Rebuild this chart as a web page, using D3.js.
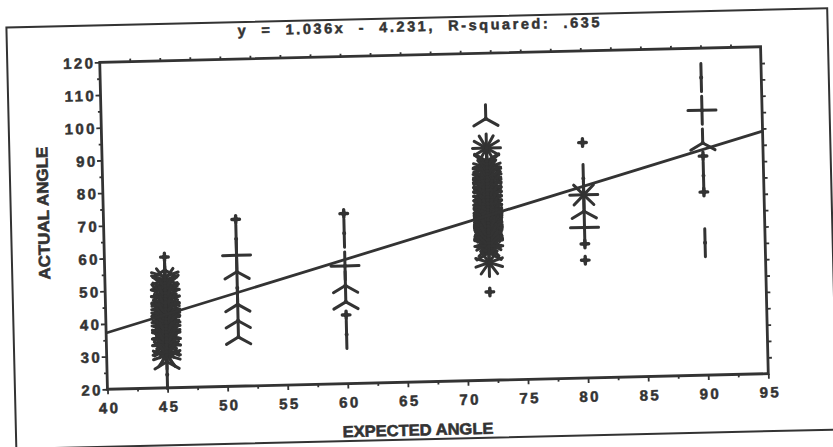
<!DOCTYPE html>
<html lang="en">
<head>
<meta charset="UTF-8">
<title>Expected vs actual angle</title>
<style>
  body, html { margin: 0; padding: 0; background: #fff; overflow: hidden; }
  svg { display: block; }
  text { font-family: "Liberation Sans", Arial, sans-serif; }
</style>
</head>
<body>
<script src="https://d3js.org/d3.v7.min.js"></script>
<script>
// sunflower plot: each entry is [actual angle, number of observations]
var at45 = [[60,1],[56,3],[54,5],[53,10],[52,6],[51,7],[50,12],[49,6],[48,8],[47,14],[46,7],[45,9],
            [44,16],[43,8],[42,12],[41,9],[40,8],[39,16],[38,7],[37,9],[36,14],[35,8],[34,7],
            [33,12],[32,6],[31,7],[30,10],[28,3],[24,2]];
var at51 = [[71,1],[65,2],[60,4],[55,3],[50,2],[45,3],[40,3],[35,3]];
var at60 = [[72,1],[66,2],[56,4],[50,3],[45,3],[41,1],[35,2]];
var at72 = [[100,3],[91,12],[87,6],[86,7],[85,10],[84,9],[83,12],[82,11],[81,14],[80,13],[79,16],
            [78,15],[77,18],[76,17],[75,20],[74,19],[73,22],[72,18],[71,20],[70,17],[69,18],
            [68,15],[67,16],[66,13],[65,14],[64,11],[63,12],[62,9],[61,8],[59,6],[56,10],[47,1]];
var at80 = [[92,1],[81,2],[76,8],[71,3],[66,4],[61,1],[56,1]];
var at90 = [[111,2],[101,4],[91,3],[87,1],[81,2],[76,1],[60.5,2]];
var expected = [45, 51, 60, 72, 80, 90];

var xTicks = [40, 45, 50, 55, 60, 65, 70, 75, 80, 85, 90, 95];
var yTicks = [20, 30, 40, 50, 60, 70, 80, 90, 100, 110, 120];
var slope = 1.036, intercept = -4.231;
var title = "y  =  1.036x  -  4.231,  R-squared:  .635";
var xLabel = "EXPECTED ANGLE", yLabel = "ACTUAL ANGLE";

var width = 833, height = 447;
var ink = "#333";

var svg = d3.select("body").append("svg")
    .attr("width", width)
    .attr("height", height);

// the scanned page sits slightly tilted
var page = svg.append("g").attr("transform", "rotate(-1.35,434,217.5)");

page.append("rect")
    .attr("x", 11).attr("y", 17.5)
    .attr("width", 821).attr("height", 421.5)
    .attr("fill", "none").attr("stroke", ink).attr("stroke-width", 2);

var x = d3.scaleLinear().domain([40, 95]).range([103.5, 764.5]);
var y = d3.scaleLinear().domain([20, 120]).range([381.5, 54.5]);

function style(g) {
    g.select(".domain").remove();
    g.selectAll("line").attr("stroke", ink).attr("stroke-width", 1.8);
}

// scanned print: text a little heavier than plain bold
function heavy(t, w) {
    t.attr("fill", ink).attr("stroke", ink).attr("stroke-width", w)
        .style("font-weight", "bold");
}

// minor ticks
page.append("g").attr("transform", "translate(0," + y(20) + ")")
    .call(d3.axisBottom(x).tickValues(d3.range(42.5, 95, 5)).tickSize(3).tickFormat(""))
    .call(style);
page.append("g").attr("transform", "translate(0," + y(120) + ")")
    .call(d3.axisTop(x).tickValues(d3.range(42.5, 95, 2.5)).tickSize(3).tickFormat(""))
    .call(style);
page.append("g").attr("transform", "translate(" + x(40) + ",0)")
    .call(d3.axisLeft(y).tickValues(d3.range(25, 120, 10)).tickSize(3).tickFormat(""))
    .call(style);
page.append("g").attr("transform", "translate(" + x(95) + ",0)")
    .call(d3.axisRight(y).tickValues(d3.range(25, 120, 5)).tickSize(4).tickFormat(""))
    .call(style);

// labelled axes
var xAxis = page.append("g").attr("transform", "translate(0," + y(20) + ")")
    .call(d3.axisBottom(x).tickValues(xTicks).tickSize(5))
    .call(style);
xAxis.selectAll("text")
    .attr("y", 24).attr("dy", 0).attr("dx", 1.2)
    .style("font-size", "15px").style("letter-spacing", "2.4px")
    .call(heavy, 0.5);

var yAxis = page.append("g").attr("transform", "translate(" + x(40) + ",0)")
    .call(d3.axisLeft(y).tickValues(yTicks).tickSize(5))
    .call(style);
yAxis.selectAll("text")
    .attr("x", -4.5).attr("dy", "0.36em")
    .style("font-size", "15px").style("letter-spacing", "2.4px")
    .call(heavy, 0.5);

page.append("rect")
    .attr("x", x(40)).attr("y", y(120))
    .attr("width", x(95) - x(40)).attr("height", y(20) - y(120))
    .attr("fill", "none").attr("stroke", ink).attr("stroke-width", 2.8);

// titles
page.append("text")
    .attr("x", 242).attr("y", 31)
    .attr("textLength", 362).attr("lengthAdjust", "spacing")
    .style("white-space", "pre")
    .style("font-size", "14.5px")
    .call(heavy, 0.5)
    .text(title);

page.append("text")
    .attr("x", 413).attr("y", 435)
    .attr("text-anchor", "middle")
    .attr("textLength", 151).attr("lengthAdjust", "spacingAndGlyphs")
    .style("font-size", "16px")
    .call(heavy, 0.6)
    .text(xLabel);

page.append("text")
    .attr("transform", "translate(49,204) rotate(-90)")
    .attr("text-anchor", "middle")
    .attr("textLength", 133).attr("lengthAdjust", "spacingAndGlyphs")
    .style("font-size", "16px")
    .call(heavy, 0.6)
    .text(yLabel);

// sunflowers
var columns = [at45, at51, at60, at72, at80, at90];
var glyphs = [];
columns.forEach(function(col, i) {
    col.forEach(function(p) {
        glyphs.push({ x: expected[i], y: p[0], n: p[1] });
    });
});

var petal = 14;
var petals = [];
glyphs.filter(function(d) { return d.n > 1; }).forEach(function(d) {
    for (var k = 0; k < d.n; k++) {
        petals.push({ d: d, a: Math.PI / 2 + 2 * Math.PI * k / d.n });
    }
});

var marks = page.append("g");

marks.selectAll("line.petal")
    .data(petals)
    .enter().append("line")
    .attr("class", "petal")
    .attr("x1", function(p) { return x(p.d.x); })
    .attr("y1", function(p) { return y(p.d.y); })
    .attr("x2", function(p) { return x(p.d.x) + petal * Math.cos(p.a); })
    .attr("y2", function(p) { return y(p.d.y) - petal * Math.sin(p.a); })
    .attr("stroke", ink).attr("stroke-width", 3).attr("stroke-linecap", "round");

marks.selectAll("circle.centre")
    .data(glyphs.filter(function(d) { return d.n > 1; }))
    .enter().append("circle")
    .attr("class", "centre")
    .attr("cx", function(d) { return x(d.x); })
    .attr("cy", function(d) { return y(d.y); })
    .attr("r", 2)
    .attr("fill", ink);

var single = marks.selectAll("g.single")
    .data(glyphs.filter(function(d) { return d.n === 1; }))
    .enter().append("g")
    .attr("class", "single")
    .attr("transform", function(d) { return "translate(" + x(d.x) + "," + y(d.y) + ")"; });
single.append("path")
    .attr("d", "M-3.8,0H3.8M0,-3.8V3.8")
    .attr("stroke", ink).attr("stroke-width", 3.4).attr("stroke-linecap", "round");
single.append("circle").attr("r", 2.6).attr("fill", ink);

// fitted line
page.append("line")
    .attr("x1", x(40)).attr("y1", y(slope * 40 + intercept))
    .attr("x2", x(95)).attr("y2", y(slope * 95 + intercept))
    .attr("stroke", ink).attr("stroke-width", 2.8);
</script>
</body>
</html>
